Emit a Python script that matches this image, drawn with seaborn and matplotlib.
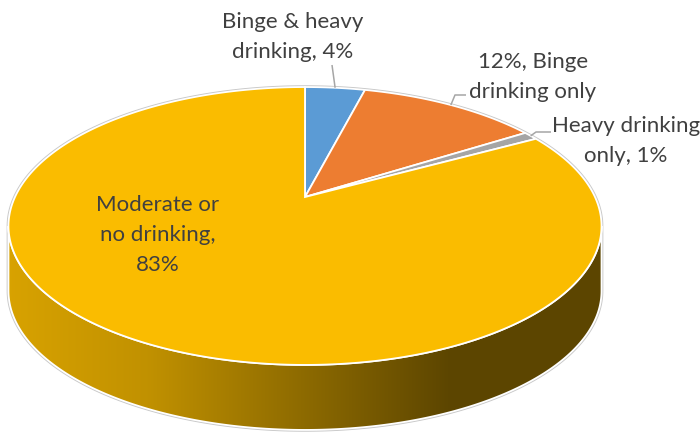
import numpy as np
import matplotlib
matplotlib.use("Agg")
import matplotlib.pyplot as plt
from matplotlib.patches import Polygon
import seaborn as sns

# ---- data -------------------------------------------------------------
categories = ["Binge & heavy drinking", "Binge drinking only",
              "Heavy drinking only", "Moderate or no drinking"]
shares = [4, 12, 1, 83]
label_texts = ["Binge & heavy\ndrinking, 4%",
               "12%, Binge\ndrinking only",
               "Heavy drinking\nonly, 1%",
               "Moderate or\nno drinking,\n83%"]
slice_colors = ["#5B9BD5", "#ED7D31", "#A5A5A5", "#FABC00"]

# ---- style --------------------------------------------------------------
sns.set_theme(style="white")
plt.rcParams["font.family"] = ["Lato", "DejaVu Sans"]
palette = sns.color_palette(slice_colors)
TEXT_COLOR = "#404040"
LEADER_COLOR = "#A6A6A6"

W, H = 700, 432
fig = plt.figure(figsize=(W / 100, H / 100), dpi=100)
ax = fig.add_axes([0, 0, 1, 1])

# perspective projection of the pie disc (pixel-like coordinates, y down)
CX, CY = 305.0, 197.0          # projected centre of the disc
A, B, K = 290.0, 132.9, 0.2086 # horizontal scale, vertical scale, perspective
DEPTH = 65.0                   # thickness of the disc


def rim(alpha):
    """Point on the disc rim; alpha measured clockwise from 12 o'clock."""
    u = np.sin(alpha)
    v = np.cos(alpha)
    w = 1.0 + K * v
    return CX + A * u / w, CY - B * v / w


total = float(sum(shares))
bounds = np.concatenate([[0.0], np.cumsum(shares)]) / total * 2 * np.pi

# visible front part of the rim (between the silhouette extremes)
a_right = np.arccos(-K)
a_left = 2 * np.pi - a_right

# side shading as a function of horizontal position
shade_x = [0, 15, 150, 300, 450, 700]
shade_f = [0.87, 0.86, 0.77, 0.57, 0.37, 0.37]

# silhouette outline (thin grey rim around the whole disc)
t_back = np.linspace(a_left, 2 * np.pi + a_right, 400)
bx, by = rim(t_back)
t_front = np.linspace(a_right, a_left, 400)
fx, fy = rim(t_front)
outline_x = np.concatenate([bx, [bx[-1]], fx, [fx[-1]], [bx[0]]])
outline_y = np.concatenate([by, [by[-1] + DEPTH], fy + DEPTH,
                            [fy[-1] + DEPTH], [by[0]]])
ax.add_patch(Polygon(np.column_stack([outline_x, outline_y]), closed=True,
                     facecolor="none", edgecolor="#C8C8C8", lw=2.6,
                     zorder=1))

# side walls of the slices facing the viewer
xs_img = np.arange(W) + 0.5
fac = np.interp(xs_img, shade_x, shade_f)
for (s, e), col in zip(zip(bounds[:-1], bounds[1:]), palette):
    lo, hi = max(s, a_right), min(e, a_left)
    if lo >= hi:
        continue
    t = np.linspace(lo, hi, 300)
    sx, sy = rim(t)
    px = np.concatenate([sx, sx[::-1]])
    py = np.concatenate([sy, sy[::-1] + DEPTH])
    side = Polygon(np.column_stack([px, py]), closed=True,
                   facecolor="none", edgecolor="white", lw=1.3, zorder=3)
    ax.add_patch(side)
    img = np.clip(np.array(col)[None, None, :] * fac[None, :, None], 0, 1)
    im = ax.imshow(img, extent=(0, W, H, 0), aspect="auto",
                   interpolation="bilinear", zorder=2)
    im.set_clip_path(side)

# top faces of the slices
for (s, e), col in zip(zip(bounds[:-1], bounds[1:]), palette):
    t = np.linspace(s, e, max(int((e - s) * 120), 8))
    rx, ry = rim(t)
    px = np.concatenate([[CX], rx])
    py = np.concatenate([[CY], ry])
    ax.add_patch(Polygon(np.column_stack([px, py]), closed=True,
                         facecolor=col, edgecolor="white", lw=1.3,
                         joinstyle="miter", zorder=4))

# data labels with leader lines
mids = (bounds[:-1] + bounds[1:]) / 2
leaders = [
    [(332, 65)],
    [(455, 95), (466, 95)],
    [(536, 132), (551, 132)],
    None,
]
label_pos = [(293, 37), (533, 77), (626, 141), (158, 235)]
for m, pts, pos, txt in zip(mids, leaders, label_pos, label_texts):
    if pts is not None:
        x0, y0 = rim(m)
        lx = [x0] + [p[0] for p in pts]
        ly = [y0] + [p[1] for p in pts]
        ax.plot(lx, ly, color=LEADER_COLOR, lw=1.1, zorder=5,
                solid_capstyle="butt")
    ax.text(pos[0], pos[1], txt, ha="center", va="center",
            fontsize=16, color=TEXT_COLOR, linespacing=1.62,
            multialignment="center", zorder=6)

ax.set_xlim(0, W)
ax.set_ylim(H, 0)
ax.axis("off")
fig.savefig("out.png", dpi=100, facecolor="white")
